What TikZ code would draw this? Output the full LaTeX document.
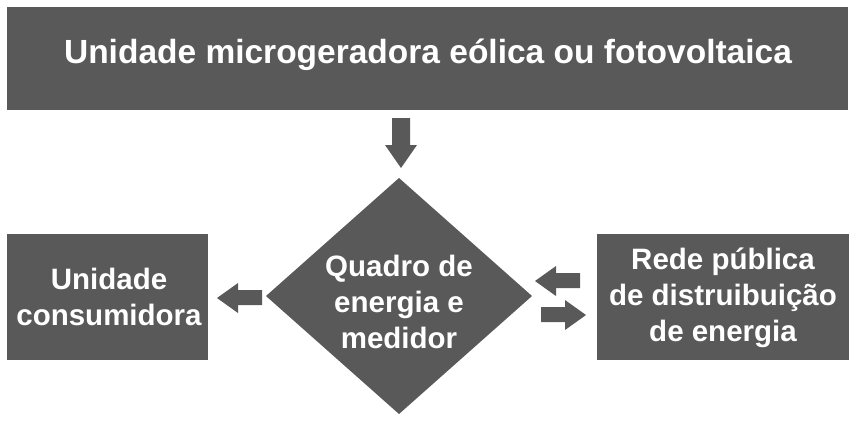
\documentclass[tikz,border=0pt]{standalone}
\usepackage{fontspec}
\setmainfont{Liberation Sans}
\usetikzlibrary{shapes.geometric}
\definecolor{dg}{HTML}{595959}
\begin{document}
\begin{tikzpicture}[x=1pt,y=-1pt,
  box/.style={fill=dg,draw=none},
  lbl/.style={text=white,font=\bfseries\fontsize{29.5}{36}\selectfont,align=center,inner sep=0pt},
  blk/.style={fill=dg,draw=none}]
\useasboundingbox (0,0) rectangle (855,424);
\fill[box] (7,7) rectangle (848,110);
\node[lbl,font=\bfseries\fontsize{33.5}{38}\selectfont] (top) at (428,55) {Unidade microgeradora eólica ou fotovoltaica};
\fill[box] (399,178) -- (532,296) -- (399,414) -- (266,296) -- cycle;
\node[lbl] (q) at (399,302) {Quadro de\\energia e\\medidor};
\fill[box] (7,234) rectangle (208,360);
\node[lbl] (uc) at (109,297) {Unidade\\consumidora};
\fill[box] (597,234) rectangle (849,360);
\node[lbl] (rp) at (723,298) {Rede pública\\de distruibuição\\de energia};
% down arrow
\fill[blk] (392,118) -- (410,118) -- (410,145) -- (417,145) -- (401,168) -- (385,145) -- (392,145) -- cycle;
% left arrow
\fill[blk] (262,290) -- (238,290) -- (238,283) -- (217,298) -- (238,313) -- (238,305) -- (262,305) -- cycle;
% right upper arrow (pointing left)
\fill[blk] (580,273) -- (556,273) -- (556,266) -- (535,281) -- (556,296) -- (556,288) -- (580,288) -- cycle;
% right lower arrow (pointing right)
\fill[blk] (541,307) -- (565,307) -- (565,300) -- (586,315) -- (565,330) -- (565,322) -- (541,322) -- cycle;
\end{tikzpicture}
\end{document}
